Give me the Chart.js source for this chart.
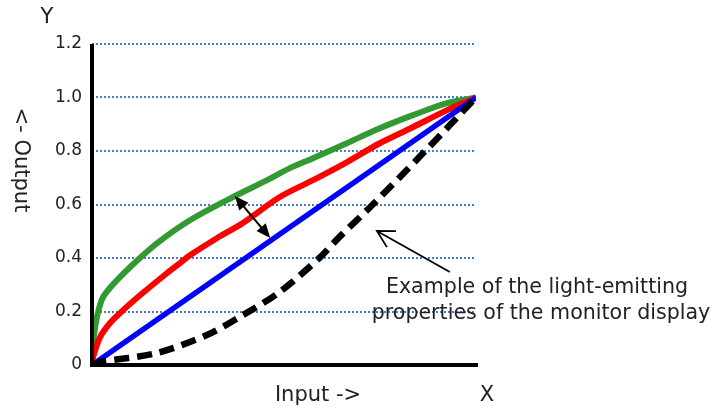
<!DOCTYPE html>
<html>
<head>
<meta charset="utf-8">
<script src="https://cdn.jsdelivr.net/npm/chart.js@4.4.1/dist/chart.umd.min.js"></script>
<style>
html,body{margin:0;padding:0;background:#fff;}
#wrap{width:712px;height:409px;position:relative;}
</style>
</head>
<body>
<div id="wrap"><canvas id="c"></canvas></div>
<script>
// ---- data ----
const yTicks = [0, 0.2, 0.4, 0.6, 0.8, 1.0, 1.2];
const yTickLabels = ['0', '0.2', '0.4', '0.6', '0.8', '1.0', '1.2'];

const greenX = [0, 0.003, 0.013, 0.029, 0.065, 0.117, 0.169, 0.255, 0.366, 0.455, 0.514, 0.574, 0.662, 0.748, 0.834, 0.922, 1];
const greenY = [0, 0.082, 0.18, 0.254, 0.317, 0.39, 0.455, 0.541, 0.627, 0.69, 0.735, 0.772, 0.828, 0.884, 0.933, 0.978, 1];

const redX = [0, 0.003, 0.021, 0.047, 0.081, 0.132, 0.195, 0.229, 0.255, 0.325, 0.392, 0.488, 0.574, 0.662, 0.748, 0.834, 0.922, 1];
const redY = [0, 0.03, 0.104, 0.157, 0.205, 0.269, 0.343, 0.381, 0.41, 0.474, 0.53, 0.627, 0.69, 0.757, 0.828, 0.888, 0.951, 1];

const blueX = [0, 1];
const blueY = [0, 1];

const monitorX = [0, 0.021, 0.169, 0.299, 0.384, 0.488, 0.592, 0.644, 0.73, 0.865, 1];
const monitorY = [0, 0.011, 0.045, 0.112, 0.179, 0.272, 0.4, 0.478, 0.598, 0.796, 1];

const annotationLines = ['Example of the light-emitting', 'properties of the monitor display'];
const xTitle = 'Input ->';
const yTitle = '<- Output';

function pts(xs, ys) { return xs.map((v, i) => ({x: v, y: ys[i]})); }

const FONT = "'DejaVu Sans', Verdana, sans-serif";
const TXT = '#222';

function filledHead(ctx, tx, ty, fx, fy, len, hw) {
  const a = Math.atan2(ty - fy, tx - fx);
  const bx = tx - len * Math.cos(a), by = ty - len * Math.sin(a);
  ctx.beginPath();
  ctx.moveTo(tx, ty);
  ctx.lineTo(bx + hw * Math.sin(a), by - hw * Math.cos(a));
  ctx.lineTo(bx - hw * Math.sin(a), by + hw * Math.cos(a));
  ctx.closePath();
  ctx.fill();
}

const deco = {
  id: 'deco',
  afterDatasetsDraw(chart) {
    const {ctx, chartArea: ca, scales: {x, y}} = chart;
    ctx.save();
    // axes
    ctx.strokeStyle = '#000';
    ctx.lineWidth = 4;
    ctx.lineCap = 'butt';
    ctx.beginPath();
    ctx.moveTo(ca.left, ca.top);
    ctx.lineTo(ca.left, ca.bottom + 2);
    ctx.moveTo(ca.left - 2, ca.bottom);
    ctx.lineTo(ca.right + 2, ca.bottom);
    ctx.stroke();

    // double-headed arrow between green and blue
    const ax1 = x.getPixelForValue(0.372), ay1 = y.getPixelForValue(0.632);
    const ax2 = x.getPixelForValue(0.464), ay2 = y.getPixelForValue(0.475);
    ctx.lineWidth = 2;
    ctx.fillStyle = '#000';
    const a = Math.atan2(ay2 - ay1, ax2 - ax1);
    ctx.beginPath();
    ctx.moveTo(ax1 + 8 * Math.cos(a), ay1 + 8 * Math.sin(a));
    ctx.lineTo(ax2 - 8 * Math.cos(a), ay2 - 8 * Math.sin(a));
    ctx.stroke();
    filledHead(ctx, ax1, ay1, ax2, ay2, 14, 6);
    filledHead(ctx, ax2, ay2, ax1, ay1, 14, 6);

    // pointer arrow to the monitor curve
    const px1 = x.getPixelForValue(0.932), py1 = y.getPixelForValue(0.348);
    const px2 = x.getPixelForValue(0.742), py2 = y.getPixelForValue(0.501);
    ctx.lineWidth = 1.8;
    ctx.beginPath();
    ctx.moveTo(px1, py1);
    ctx.lineTo(px2, py2);
    const b = Math.atan2(py1 - py2, px1 - px2);
    const hl = 19, ha = 29 * Math.PI / 180;
    ctx.moveTo(px2 + hl * Math.cos(b - ha), py2 + hl * Math.sin(b - ha));
    ctx.lineTo(px2, py2);
    ctx.lineTo(px2 + hl * Math.cos(b + ha), py2 + hl * Math.sin(b + ha));
    ctx.stroke();

    // annotation text
    ctx.fillStyle = TXT;
    ctx.font = '20.6px ' + FONT;
    ctx.textAlign = 'center';
    ctx.textBaseline = 'middle';
    ctx.fillText(annotationLines[0], 537, 288);
    ctx.fillText(annotationLines[1], 541, 314);

    // axis titles
    ctx.font = '21px ' + FONT;
    ctx.fillText(xTitle, 318, 396);
    ctx.fillText('X', 487, 396);
    ctx.fillText('Y', 47, 18);
    ctx.save();
    ctx.translate(20, 160);
    ctx.rotate(Math.PI / 2);
    ctx.fillText(yTitle, 0, 0);
    ctx.restore();
    ctx.restore();
  }
};

new Chart(document.getElementById('c'), {
  type: 'scatter',
  data: {
    datasets: [
      {data: pts(monitorX, monitorY), showLine: true, borderColor: '#000', borderWidth: 6.5, borderDash: [15, 8], borderCapStyle: 'butt', pointRadius: 0, tension: 0.3, fill: false},
      {data: pts(blueX, blueY), showLine: true, borderColor: '#0000ff', borderWidth: 5.5, pointRadius: 0, fill: false},
      {data: pts(redX, redY), showLine: true, borderColor: '#ff0000', borderWidth: 6, pointRadius: 0, tension: 0.3, borderJoinStyle: 'round', fill: false},
      {data: pts(greenX, greenY), showLine: true, borderColor: '#339933', borderWidth: 6, pointRadius: 0, tension: 0.3, borderJoinStyle: 'round', fill: false}
    ]
  },
  options: {
    responsive: true,
    maintainAspectRatio: false,
    animation: false,
    layout: {padding: {top: 44, right: 236, bottom: 44, left: 0}},
    plugins: {legend: {display: false}, tooltip: {enabled: false}},
    scales: {
      x: {type: 'linear', min: 0, max: 1, display: false},
      y: {
        type: 'linear', min: 0, max: 1.2,
        afterBuildTicks: s => { s.ticks = yTicks.map(v => ({value: v})); },
        afterFit: s => { s.width = 92; },
        ticks: {
          padding: 10,
          color: TXT,
          font: {family: FONT, size: 17},
          callback: (v, i) => yTickLabels[i]
        },
        grid: {
          drawTicks: false,
          lineWidth: 2,
          color: c => (c.tick && c.tick.value === 0) ? 'rgba(0,0,0,0)' : '#4a7cc4'
        },
        border: {display: false, dash: [2, 2]}
      }
    }
  },
  plugins: [deco]
});
</script>
</body>
</html>
